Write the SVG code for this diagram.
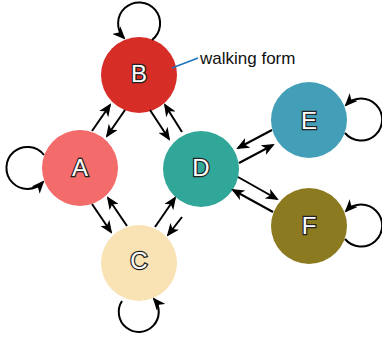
<svg xmlns="http://www.w3.org/2000/svg" width="382" height="340" viewBox="0 0 382 340">
<defs>
<marker id="ah" markerUnits="userSpaceOnUse" viewBox="0 0 13 11" markerWidth="13" markerHeight="11" refX="11" refY="5.5" orient="auto">
<path d="M0,0 L13,5.5 L0,11 L3.5,5.5 Z" fill="#000"/>
</marker>
</defs>
<style>
.e{fill:none;stroke:#000;stroke-width:2;marker-end:url(#ah)}
.lbl{font-family:"Liberation Sans",Arial,sans-serif;font-size:24px;fill:#fff;stroke:#222;stroke-width:2.5;paint-order:stroke;text-anchor:middle}
.note{font-family:"Liberation Sans",Arial,sans-serif;font-size:17px;fill:#111}
</style>
<rect width="382" height="340" fill="#fff"/>
<g id="nodes">
<g id="B"><circle cx="139" cy="75" r="38" fill="#d62d27"/><text class="lbl" x="139" y="82">B</text></g>
<g id="A"><circle cx="80" cy="168" r="38" fill="#f36b6b"/><text class="lbl" x="80" y="176">A</text></g>
<g id="D"><circle cx="201" cy="169" r="38" fill="#30a798"/><text class="lbl" x="201" y="176">D</text></g>
<g id="E"><circle cx="309" cy="120" r="38" fill="#439fb8"/><text class="lbl" x="309" y="129">E</text></g>
<g id="F"><circle cx="309" cy="226" r="38" fill="#8c7a21"/><text class="lbl" x="309" y="234">F</text></g>
<g id="C"><circle cx="139" cy="263" r="38" fill="#f9e2b3"/><text class="lbl" x="139" y="269">C</text></g>
</g>
<g id="connectors">
<path class="e" d="M92,131 L110,105"/>
<path class="e" d="M125,110 L107,136"/>
<path class="e" d="M150,110 L169,139"/>
<path class="e" d="M182,132 L165,105"/>
<path class="e" d="M92,204 L111,232"/>
<path class="e" d="M127,226 L108,198"/>
<path class="e" d="M155,227 L175,198"/>
<path class="e" d="M182,217 L168,235"/>
<path class="e" d="M272,130 L238,148"/>
<path class="e" d="M239,163 L273,145"/>
<path class="e" d="M238,177 L277,199"/>
<path class="e" d="M273,212 L233,190"/>
<path class="e" d="M152,40 A21,21 0 1 0 124,38"/>
<path class="e" d="M44,155 A21,21 0 1 0 43,182"/>
<path class="e" d="M122,301 A20,20 0 1 0 154,299"/>
<path class="e" d="M345,133 A21,21 0 1 0 346,105"/>
<path class="e" d="M345,239 A21,21 0 1 0 346,211"/>
</g>
<g id="label">
<line x1="172" y1="68" x2="198" y2="58" stroke="#1c75bc" stroke-width="1.5"/>
<text class="note" x="200" y="64">walking form</text>
</g>
</svg>
